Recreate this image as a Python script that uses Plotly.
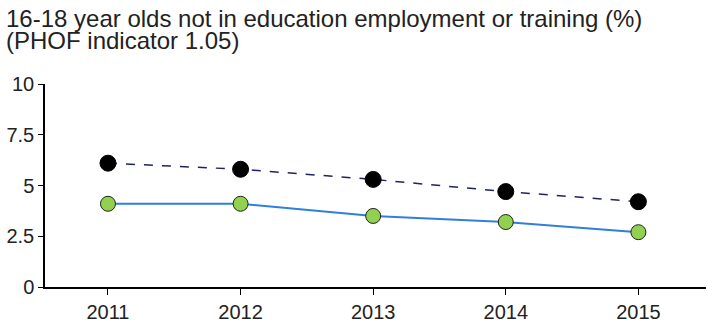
import plotly.graph_objects as go

years = [2011, 2012, 2013, 2014, 2015]
comparator = [6.1, 5.8, 5.3, 4.7, 4.2]
local = [4.1, 4.1, 3.5, 3.2, 2.7]
y_ticks = [0, 2.5, 5, 7.5, 10]
y_labels = ["0", "2.5", "5", "7.5", "10"]
title_lines = ["16-18 year olds not in education employment or training (%)",
               "(PHOF indicator 1.05)"]

W, H = 707, 324
L, R, T, B = 45, 1, 84, 35
pw, ph = W - L - R, H - T - B

fig = go.Figure()
fig.add_trace(go.Scatter(
    x=years, y=comparator, mode="lines+markers",
    line=dict(color="#1f2460", width=1.5, dash="dash"),
    marker=dict(color="black", size=16, line=dict(color="black", width=1)),
))
fig.add_trace(go.Scatter(
    x=years, y=local, mode="lines+markers",
    line=dict(color="#2f7fdc", width=2),
    marker=dict(color="#92d050", size=15, line=dict(color="#222222", width=1)),
))

# title as two annotations so the line spacing can be matched
for i, (line, ypx) in enumerate(zip(title_lines, [18, 40])):
    fig.add_annotation(
        text=line, xref="paper", yref="paper",
        x=(5 - L) / pw, y=1 + (T - ypx) / ph,
        xanchor="left", yanchor="middle", showarrow=False, borderpad=0,
        font=dict(family="Liberation Sans", size=24, color="#222222"),
    )

fig.update_layout(
    width=W, height=H,
    margin=dict(l=L, r=R, t=T, b=B),
    paper_bgcolor="white", plot_bgcolor="white",
    showlegend=False,
    font=dict(family="Liberation Sans", color="#222222", size=20),
)
fig.update_xaxes(
    range=[2010.525, 2015.51], tickvals=years, ticktext=[str(y) for y in years],
    tickfont=dict(family="Liberation Sans", size=20, color="#222222"),
    showgrid=False, zeroline=False, showline=True, linecolor="black", linewidth=1.5,
    ticks="outside", ticklen=6, tickcolor="black",
)
fig.update_yaxes(
    range=[0, 10], tickvals=y_ticks, ticktext=y_labels,
    tickfont=dict(family="Liberation Sans", size=20, color="#222222"),
    showgrid=False, zeroline=False, showline=True, linecolor="black", linewidth=1.5,
    ticks="outside", ticklen=5, tickcolor="black",
)

fig.write_html("out.html", config={"displayModeBar": False},
               post_script="document.body.style.margin='0px';")
